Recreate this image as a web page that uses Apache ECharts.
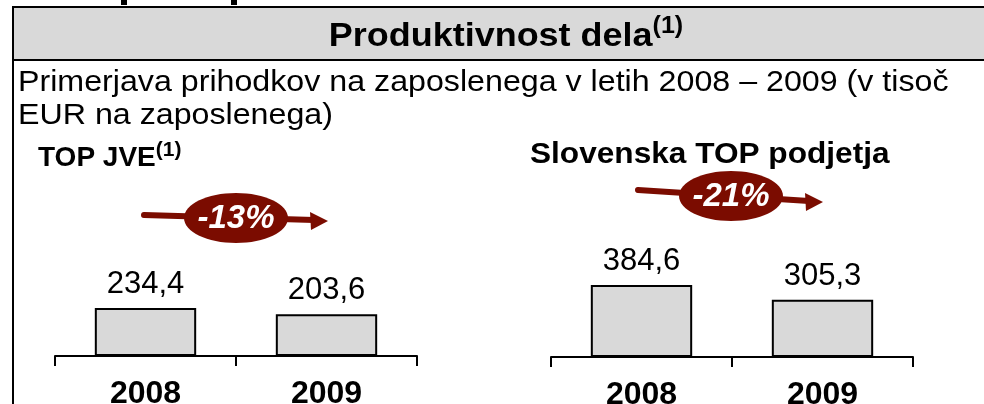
<!DOCTYPE html>
<html>
<head>
<meta charset="utf-8">
<script src="https://cdn.jsdelivr.net/npm/echarts@6/dist/echarts.min.js"></script>
<style>
  html, body { margin: 0; padding: 0; background: #fff; }
  #chart { width: 984px; height: 404px; }
</style>
</head>
<body>
<div id="chart"></div>
<script>
// data
const years = ["2008", "2009"];
const jveValues = [234.4, 203.6];
const topValues = [384.6, 305.3];

const darkRed = "#7b0c00";
const font = "Liberation Sans, Arial, sans-serif";

const chart = echarts.init(document.getElementById("chart"));

// change in % from first to last year, rounded
const change = (arr) => Math.round(((arr[1] - arr[0]) / arr[0]) * 100) + "%";
const fmt = (v) => v.toFixed(1).replace(".", ",");

const barSeries = (idx, data) => ({
  type: "bar",
  xAxisIndex: idx,
  yAxisIndex: idx,
  data: data,
  barWidth: "56%",
  itemStyle: {
    color: "#d9d9d9",
    borderColor: "#000",
    borderWidth: 2,
  },
  label: {
    show: true,
    position: "top",
    distance: 8,
    fontFamily: font,
    fontSize: 31,
    color: "#000",
    formatter: (p) => fmt(p.value),
  },
  silent: true,
});

const catAxis = (idx) => ({
  type: "category",
  gridIndex: idx,
  data: years,
  axisLine: { lineStyle: { color: "#000", width: 2 } },
  axisTick: { show: true, length: 10, lineStyle: { color: "#000", width: 2 } },
  axisLabel: {
    margin: 22,
    fontFamily: font,
    fontSize: 32,
    fontWeight: "bold",
    color: "#000",
  },
});

const valAxis = (idx, max) => ({
  type: "value",
  gridIndex: idx,
  min: 0,
  max: max,
  show: false,
  splitLine: { show: false },
});

// arrow with ellipse badge
const badge = (x1, y1, x2, y2, cx, cy, text) => [
  {
    type: "line",
    shape: { x1: x1, y1: y1, x2: x2 - 14, y2: y2 - 1 },
    style: { stroke: darkRed, lineWidth: 6, lineCap: "round" },
  },
  {
    type: "polygon",
    shape: { points: [[x2, y2], [x2 - 18, y2 - 9], [x2 - 17, y2 + 9]] },
    style: { fill: darkRed },
  },
  {
    type: "ellipse",
    shape: { cx: cx, cy: cy, rx: 52, ry: 25 },
    style: { fill: darkRed },
  },
  {
    type: "text",
    x: cx,
    y: cy + 1,
    style: {
      text: text,
      fill: "#fff",
      font: "italic bold 33px " + font,
      align: "center",
      verticalAlign: "middle",
    },
  },
];

chart.setOption({
  animation: false,
  grid: [
    { left: 55, top: 256, width: 362, height: 100, outerBoundsMode: "none" },
    { left: 551, top: 257, width: 362, height: 100, outerBoundsMode: "none" },
  ],
  xAxis: [catAxis(0), catAxis(1)],
  yAxis: [valAxis(0, 488), valAxis(1, 534)],
  series: [barSeries(0, jveValues), barSeries(1, topValues)],
  graphic: [
    // fragments of the text above the box
    { type: "rect", shape: { x: 121, y: 0, width: 6, height: 5 }, style: { fill: "#000" } },
    { type: "rect", shape: { x: 231, y: 0, width: 6, height: 5 }, style: { fill: "#000" } },
    // header box
    {
      type: "rect",
      shape: { x: 13, y: 7, width: 1000, height: 53 },
      style: { fill: "#d9d9d9", stroke: "#000", lineWidth: 2 },
    },
    {
      type: "line",
      shape: { x1: 13, y1: 60, x2: 13, y2: 404 },
      style: { stroke: "#000", lineWidth: 2 },
    },
    {
      type: "text",
      x: 506,
      y: 34,
      scaleX: 1.09,
      style: {
        text: "{t|Produktivnost dela}{s|(1)}",
        align: "center",
        verticalAlign: "middle",
        rich: {
          t: { font: "bold 33px " + font, fill: "#000", verticalAlign: "bottom", lineHeight: 38 },
          s: { font: "bold 23px " + font, fill: "#000", verticalAlign: "top", lineHeight: 38, padding: [0, 0, 12, 0] },
        },
      },
    },
    {
      type: "text",
      x: 18,
      y: 66,
      scaleX: 1.11,
      style: {
        text: "Primerjava prihodkov na zaposlenega v letih 2008 – 2009 (v tisoč\nEUR na zaposlenega)",
        font: "29px " + font,
        fill: "#000",
        lineHeight: 33,
      },
    },
    {
      type: "text",
      x: 38,
      y: 140,
      style: {
        text: "{t|TOP JVE}{s|(1)}",
        rich: {
          t: { font: "bold 28px " + font, fill: "#000", lineHeight: 32, verticalAlign: "bottom" },
          s: { font: "bold 21px " + font, fill: "#000", lineHeight: 32, verticalAlign: "top", padding: [0, 0, 10, 0] },
        },
      },
    },
    {
      type: "text",
      x: 530,
      y: 140,
      scaleX: 1.09,
      style: {
        text: "Slovenska TOP podjetja",
        font: "bold 29px " + font,
        fill: "#000",
      },
    },
    ...badge(144, 215, 328, 221, 236, 218, change(jveValues)),
    ...badge(638, 190, 823, 202, 731, 196, change(topValues)),
  ],
});
</script>
</body>
</html>
